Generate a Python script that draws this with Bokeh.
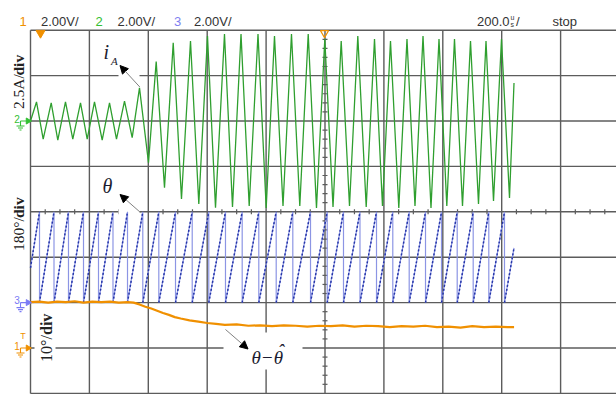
from math import pi

from bokeh.plotting import figure
from bokeh.models import Range1d, Label, Arrow, NormalHead
from bokeh.embed import file_html
from bokeh.resources import INLINE

# ---------------------------------------------------------------------------
# Scope settings
# ---------------------------------------------------------------------------
US_PER_DIV = 200.0          # time base
AMP_PER_DIV = 2.5           # channel 2 : phase current i_A
THETA_DEG_PER_DIV = 180.0   # channel 3 : rotor angle theta
ERR_DEG_PER_DIV = 10.0      # channel 1 : angle error theta - theta_hat
CH2_OFFSET_DIV = 2.0
CH3_OFFSET_DIV = -2.0
CH1_OFFSET_DIV = -3.0

# ---------------------------------------------------------------------------
# Recorded traces
# ---------------------------------------------------------------------------
# phase current i_A : turning points of the waveform (time in us, current in A)
ia_time_us = [
    0.0, 20.4, 43.1, 70.3, 92.7, 118.8, 143.6, 169.8, 192.5, 217.3, 243.4,
    268.3, 292.0, 319.2, 345.3,
    370.1, 400.7, 426.8, 455.0, 484.6, 512.7, 543.3, 571.5, 601.0, 628.2,
    658.7, 685.9, 714.8, 742.6, 772.5, 800.3, 828.5, 857.4, 886.2, 914.4,
    943.0, 971.1, 999.3, 1027.2, 1055.0, 1083.2, 1111.4, 1139.9, 1168.1, 1195.2,
    1222.4, 1250.6, 1278.4, 1305.6, 1332.8, 1359.9, 1387.1, 1413.6, 1439.7, 1466.9,
    1494.1, 1521.2, 1546.7, 1572.2, 1599.3, 1626.5, 1641.8,
]
ia_amp = [
    0.0, 1.05, -1.0, 1.0, -1.05, 1.05, -1.0, 1.0, -1.0, 1.05, -1.05,
    1.0, -1.0, 1.1, -0.92,
    1.82, -2.30, 3.27, -3.67, 4.31, -4.30, 4.41, -4.57, 4.68, -4.77,
    4.79, -4.74, 4.79, -4.68, 4.79, -4.79, 4.68, -4.68, 4.79, -4.68,
    4.79, -4.79, 4.52, -4.74, 4.41, -4.68, 4.68, -4.74, 4.52, -4.68,
    4.41, -4.79, 4.52, -4.68, 4.68, -4.79, 4.52, -4.68, 4.52, -4.68,
    4.41, -4.57, 4.41, -4.41, 4.52, -4.24, 2.09,
]

# rotor angle theta : instants where the angle wraps from 360 deg back to 0 deg
theta_wrap_us = [
    30.6, 79.8, 129.0, 180.0, 230.9, 280.1, 329.4, 381.3, 435.7, 492.4,
    549.1, 605.4, 662.1, 718.8, 775.2, 834.3, 890.7, 950.8, 1007.5, 1062.8,
    1118.8, 1174.9, 1230.2, 1285.9, 1341.3, 1395.6, 1448.9, 1503.2, 1556.2, 1609.5,
]
theta_first_deg = 138.0
theta_last_deg = 217.0
trace_end_us = 1641.8

# angle estimation error theta - theta_hat (deg)
err_time_us = [
    0, 30, 60, 90, 120, 150, 180, 210, 240, 270, 300, 330, 350, 370, 390,
    410, 430, 450, 470, 490, 510, 540, 570, 600, 630, 660, 700, 740, 780,
    820, 860, 900, 940, 980, 1020, 1060, 1100, 1140, 1180, 1220, 1260, 1300,
    1340, 1380, 1420, 1460, 1500, 1540, 1580, 1620, 1642,
]
err_deg = [
    10.1, 10.2, 10.0, 10.2, 10.1, 10.3, 10.0, 10.2, 10.1, 10.2, 10.0, 10.1,
    10.0, 9.6, 9.1, 8.7, 8.2, 7.7, 7.3, 6.8, 6.5, 6.1, 5.8, 5.5, 5.3, 5.1,
    5.2, 4.9, 5.0, 4.8, 5.0, 4.9, 4.7, 4.9, 4.8, 5.0, 4.7, 4.9, 4.8, 4.6,
    4.8, 4.7, 4.9, 4.6, 4.7, 4.5, 4.8, 4.6, 4.7, 4.6, 4.6,
]

# ---------------------------------------------------------------------------
# Screen geometry of the scope display
# ---------------------------------------------------------------------------
W, H = 616, 394
GX0, PX_DIV_X = 30.0, 58.9      # left edge of graticule, pixels per time division
GY_C, PX_DIV_Y = 211.3, 45.4    # centre line, pixels per vertical division


def X(px):
    return (px - GX0) / PX_DIV_X * US_PER_DIV


def Y(py):
    return (GY_C - py) / PX_DIV_Y


GRID = "#5c5c5c"
C_CH1 = "#f09000"
C_CH2 = "#2f9f2f"
C_CH3_LIGHT = "#8c95e4"
C_CH3_DARK = "#2536a8"
C_TEXT = "#333333"

p = figure(
    width=W, height=H,
    x_range=Range1d(X(0), X(W)), y_range=Range1d(Y(H), Y(0)),
    x_axis_location=None, y_axis_location=None,
    toolbar_location=None, output_backend="svg",
    min_border=0, outline_line_color=None,
    background_fill_color="white", border_fill_color="white",
)
p.xgrid.visible = False
p.ygrid.visible = False

# ---------------------------------------------------------------------------
# Graticule
# ---------------------------------------------------------------------------
vx = [k * US_PER_DIV for k in range(11)]
p.segment(x0=vx, y0=[-4] * len(vx), x1=vx, y1=[4] * len(vx),
          line_color=GRID, line_width=1.4)
hy = list(range(-4, 5))
p.segment(x0=[0] * len(hy), y0=hy, x1=[X(W) + 50] * len(hy), y1=hy,
          line_color=GRID, line_width=1.4)

# minor ticks on the centre lines
th = 2.5 / PX_DIV_Y
tx = [k * US_PER_DIV / 4 for k in range(44) if k % 4]
p.segment(x0=tx, y0=[-th] * len(tx), x1=tx, y1=[th] * len(tx),
          line_color=GRID, line_width=1.2)
tw = 2.5 / PX_DIV_X * US_PER_DIV
ty = [j * 0.2 for j in range(-20, 21) if j % 5]
xc = 5 * US_PER_DIV
p.segment(x0=[xc - tw] * len(ty), y0=ty, x1=[xc + tw] * len(ty), y1=ty,
          line_color=GRID, line_width=1.2)

# white panels behind annotations
boxes = [(118, 139, 70, 79), (118, 139, 207, 216), (34, 55, 308, 366), (223, 302, 332, 369)]
p.quad(left=[X(b[0]) for b in boxes], right=[X(b[1]) for b in boxes],
       top=[Y(b[2]) for b in boxes], bottom=[Y(b[3]) for b in boxes],
       fill_color="white", line_color=None)

# ---------------------------------------------------------------------------
# Traces
# ---------------------------------------------------------------------------
# channel 2 : i_A
p.line(ia_time_us, [a / AMP_PER_DIV + CH2_OFFSET_DIV for a in ia_amp],
       line_color=C_CH2, line_width=1.3)

# channel 3 : theta sawtooth
bx, bdeg = [0.0], [theta_first_deg]
for w in theta_wrap_us:
    bx += [w, w]
    bdeg += [360.0, 0.0]
bx.append(trace_end_us)
bdeg.append(theta_last_deg)
by = [d / THETA_DEG_PER_DIV + CH3_OFFSET_DIV for d in bdeg]
p.line(bx, by, line_color=C_CH3_LIGHT, line_width=1.2)
ramp_idx = range(0, len(bx) - 1, 2)
p.segment(x0=[bx[i] for i in ramp_idx], y0=[by[i] for i in ramp_idx],
          x1=[bx[i + 1] for i in ramp_idx], y1=[by[i + 1] for i in ramp_idx],
          line_color=C_CH3_DARK, line_width=1.5, line_dash="2 2")

# channel 1 : theta - theta_hat
p.line(err_time_us, [d / ERR_DEG_PER_DIV + CH1_OFFSET_DIV for d in err_deg],
       line_color=C_CH1, line_width=2.2)

# ---------------------------------------------------------------------------
# Annotations
# ---------------------------------------------------------------------------
def arrow(x0, y0, x1, y1):
    p.add_layout(Arrow(end=NormalHead(size=8, fill_color="black", line_color="black"),
                       x_start=X(x0), y_start=Y(y0), x_end=X(x1), y_end=Y(y1),
                       line_color="#808080", line_width=1))


arrow(139.3, 86.5, 119.5, 65.0)
arrow(140.0, 212.0, 119.5, 194.0)
arrow(225.0, 329.0, 247.5, 348.5)


def label(px, py, text, size, color="#1c1c30", font="Liberation Serif", style="italic",
          align="left", baseline="middle", angle=0.0):
    p.add_layout(Label(x=X(px), y=Y(py), text=text, text_font=font,
                       text_font_size=f"{size}px", text_font_style=style,
                       text_color=color, text_align=align, text_baseline=baseline,
                       angle=angle))


label(103, 51, "i", 20)
label(110.5, 60, "A", 11)
label(102, 185.5, "θ", 20)
label(251, 356.5, "θ−θ", 19)
label(280.5, 350.0, "ˆ", 19, align="center")

# vertical scale labels
label(18, 108.5, "2.5A/", 15.5, color="#222222", style="normal", angle=pi / 2)
label(18, 75.0, "div", 15.5, color="#222222", style="bold", angle=pi / 2)
label(18, 250.5, "180°/", 15.5, color="#222222", style="normal", angle=pi / 2)
label(18, 217.5, "div", 15.5, color="#222222", style="bold", angle=pi / 2)
label(46, 361.5, "10°/", 16, color="#222222", style="normal", angle=pi / 2)
label(46, 334.5, "div", 16, color="#222222", style="bold", angle=pi / 2)

# header line
HDR_Y = 20.5
hdr = [(19, "1", C_CH1), (40.5, "2.00V/", C_TEXT), (95, "2", "#33c033"),
       (117, "2.00V/", C_TEXT), (173.5, "3", "#8080f0"), (193.5, "2.00V/", C_TEXT),
       (476.5, "200.0", C_TEXT), (552, "stop", C_TEXT)]
for hx, txt, col in hdr:
    label(hx, HDR_Y, txt, 13, color=col, font="Liberation Sans", style="normal")
label(510, 16.5, "u", 7, color=C_TEXT, font="Liberation Sans", style="normal")
label(510, 23.5, "s", 7, color=C_TEXT, font="Liberation Sans", style="normal")
label(515.5, HDR_Y, "/", 13, color=C_TEXT, font="Liberation Sans", style="normal")

# trigger markers on the top edge
p.scatter(x=[X(40)], y=[Y(32.5)], marker="inverted_triangle", size=9,
          fill_color=C_CH1, line_color=C_CH1)
p.scatter(x=[X(324)], y=[Y(32.5)], marker="inverted_triangle", size=8,
          fill_color=None, line_color=C_CH1, line_width=1.2)

# channel ground markers on the left edge
for num, col, gy in [("2", "#33c033", 120.5), ("3", "#7a7af5", 302.1), ("1", C_CH1, 347.5)]:
    label(16.5, gy - 2.5, num, 10, color=col, font="Liberation Sans", style="normal",
          align="center")
    p.segment(x0=[X(20)], y0=[Y(gy)], x1=[X(27)], y1=[Y(gy)], line_color=col, line_width=1.2)
    p.scatter(x=[X(27.5)], y=[Y(gy)], marker="triangle", angle=-pi / 2, size=6,
              fill_color=col, line_color=col)
    p.segment(x0=[X(20)], y0=[Y(gy)], x1=[X(20)], y1=[Y(gy + 5)], line_color=col, line_width=1.1)
    p.segment(x0=[X(16), X(17.5), X(19)], y0=[Y(gy + 5), Y(gy + 7), Y(gy + 9)],
              x1=[X(24), X(22.5), X(21)], y1=[Y(gy + 5), Y(gy + 7), Y(gy + 9)],
              line_color=col, line_width=1.1)
label(22.5, 335.5, "T", 9, color=C_CH1, font="Liberation Sans", style="normal",
      align="center")

open("out.html", "w").write(file_html(p, INLINE))
